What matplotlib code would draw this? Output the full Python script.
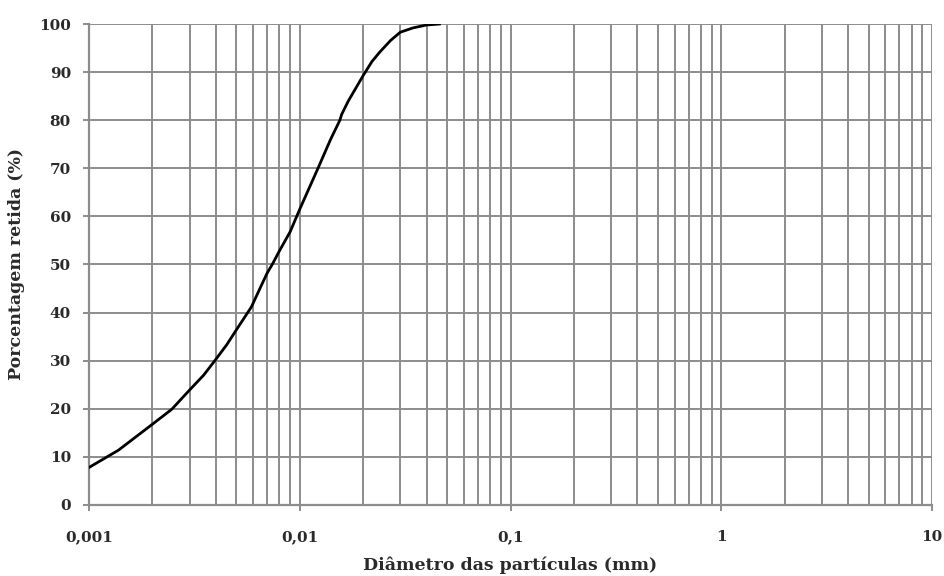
import numpy as np
import matplotlib
matplotlib.use("Agg")
from matplotlib import pyplot as plt
from matplotlib.ticker import FixedLocator, LogLocator, NullFormatter

# curva granulométrica (percentagem retida)
diametro = [0.001, 0.00138, 0.002, 0.00247, 0.003, 0.0035, 0.004, 0.0045,
            0.005, 0.0059, 0.0065, 0.007, 0.0074, 0.008, 0.009, 0.01, 0.0122,
            0.014, 0.0155, 0.0158, 0.017, 0.02, 0.022, 0.024, 0.027, 0.03,
            0.0345, 0.04, 0.046]
retida = [7.8, 11.4, 16.8, 19.9, 23.9, 27.0, 30.3, 33.3,
          36.4, 41.2, 45.2, 48.2, 50.0, 52.8, 56.8, 61.5, 70.0,
          76.0, 80.0, 81.2, 84.0, 89.3, 92.2, 94.2, 96.6, 98.3,
          99.2, 99.8, 100.0]

x_ticks = [0.001, 0.01, 0.1, 1, 10]
x_labels = ["0,001", "0,01", "0,1", "1", "10"]
y_ticks = list(range(0, 101, 10))

plt.rcParams['font.family'] = ['DejaVu Serif']

fig = plt.figure(figsize=(9.44, 5.76), dpi=100)
ax = fig.add_axes([0.0943, 0.1233, 0.893, 0.835])

grid_c = "#8c8c8c"
txt_c = "#2a2a2a"
ax.plot(diametro, retida, color="black", lw=2.0, zorder=3)

ax.set_xscale("log")
ax.set_xlim(0.001, 10)
ax.set_ylim(0, 100)

ax.xaxis.set_major_locator(FixedLocator(x_ticks))
ax.set_xticklabels(x_labels)
ax.xaxis.set_minor_locator(LogLocator(base=10, subs=np.arange(2, 10)))
ax.xaxis.set_minor_formatter(NullFormatter())
ax.set_yticks(y_ticks)

ax.grid(which="both", axis="x", color=grid_c, lw=1.4)
ax.grid(which="major", axis="y", color=grid_c, lw=1.4)
ax.tick_params(which="minor", length=0)
ax.tick_params(which="major", length=4, width=1.4, color=grid_c,
               labelsize=11, labelcolor=txt_c)
ax.tick_params(axis="x", pad=14)
ax.tick_params(axis="y", pad=9)
for lab in ax.get_xticklabels() + ax.get_yticklabels():
    lab.set_fontweight("bold")

for s in ["top", "right"]:
    ax.spines[s].set_visible(False)
for s in ["left", "bottom"]:
    ax.spines[s].set_color(grid_c)
    ax.spines[s].set_linewidth(1.6)

ax.set_xlabel("Diâmetro das partículas (mm)", fontsize=12.5, fontweight="bold",
              color=txt_c, labelpad=9)
ax.set_ylabel("Porcentagem retida (%)", fontsize=12.5, fontweight="bold",
              color=txt_c, labelpad=10)

fig.savefig("out.png", dpi=100)
